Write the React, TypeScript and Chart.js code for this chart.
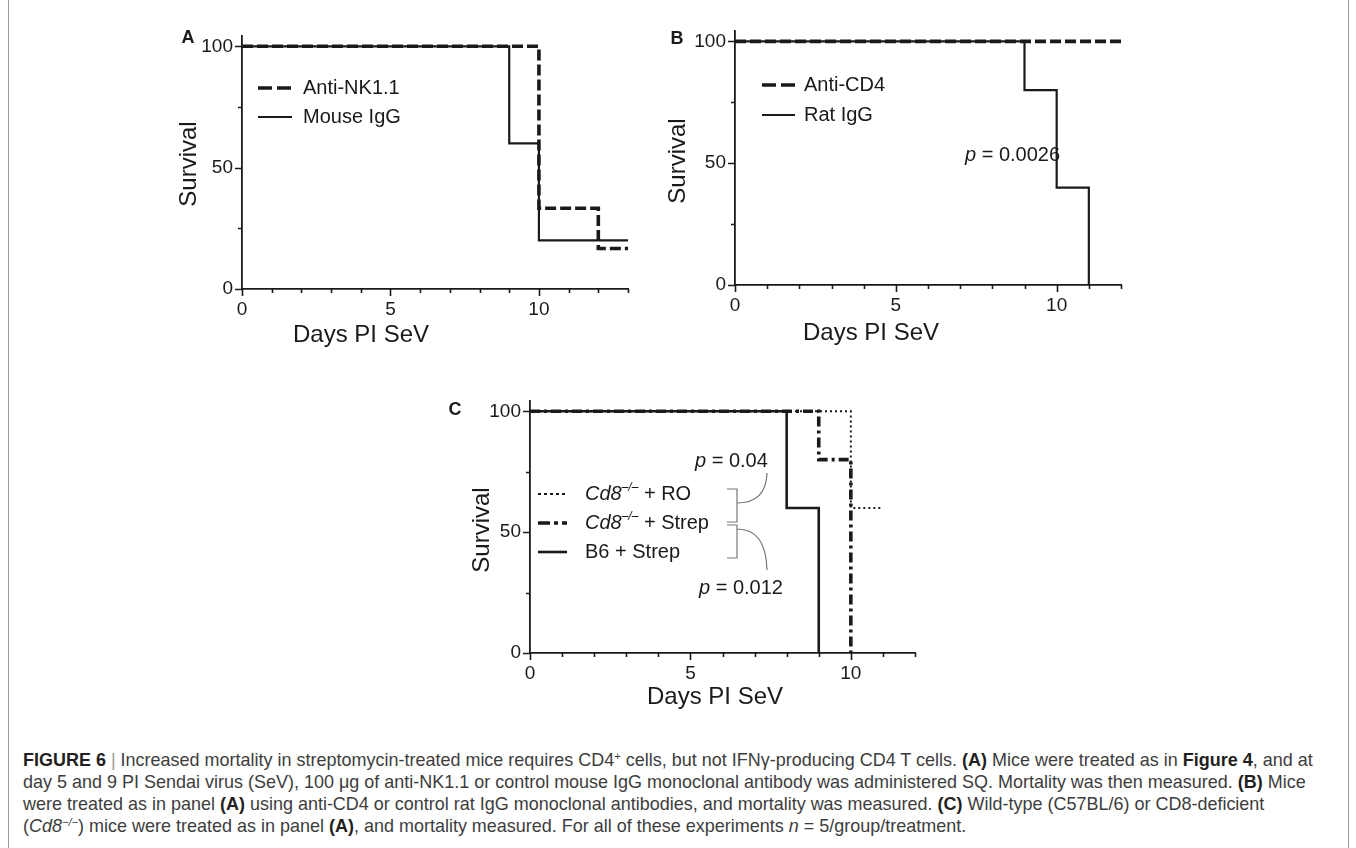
import React, { useEffect, useLayoutEffect, useRef } from 'react';
import { Chart, registerables } from 'chart.js';
Chart.register(...registerables);

// ---------- data ----------
const nk11Days = [0, 10, 12, 13];
const nk11Surv = [100, 33.3, 16.7, 16.7];
const mouseIgGDays = [0, 9, 10, 13];
const mouseIgGSurv = [100, 60, 20, 20];

const cd4Days = [0, 12];
const cd4Surv = [100, 100];
const ratIgGDays = [0, 9, 10, 11];
const ratIgGSurv = [100, 80, 40, 0];

const roDays = [0, 10, 11];
const roSurv = [100, 60, 60];
const cd8StrepDays = [0, 9, 10];
const cd8StrepSurv = [100, 80, 0];
const b6StrepDays = [0, 8, 9];
const b6StrepSurv = [100, 60, 0];

const yTickValues = [0, 25, 50, 75, 100];
const yLabelValues = [0, 50, 100];
const xLabelEvery = 5;
const xMaxA = 13;
const xMaxB = 12;
const xMaxC = 12;
const yAxisMax = 104.5;

// ---------- styling ----------
const FONT = "'Liberation Sans', Arial, Helvetica, sans-serif";
const INK = '#1a1a1a';
const Y_W = 50;
const X_H = 40;

type Series = { label: string; days: number[]; surv: number[]; dash: number[]; width: number; legendDash: number[] };

type PanelCfg = {
  box: { left: number; top: number; width: number; height: number };
  area: { left: number; right: number; y0: number; y100: number };
  xMax: number;
  series: Series[];
  decorate: (ctx: CanvasRenderingContext2D) => void;
};

function pts(days: number[], surv: number[]) {
  return days.map((d, i) => ({ x: d, y: surv[i] }));
}

function text(ctx: CanvasRenderingContext2D, s: string, x: number, y: number, size: number, opts: any = {}) {
  ctx.save();
  ctx.font = `${opts.bold ? 'bold ' : ''}${opts.italic ? 'italic ' : ''}${size}px ${FONT}`;
  ctx.fillStyle = opts.color || INK;
  ctx.textAlign = opts.align || 'left';
  ctx.textBaseline = 'middle';
  if (opts.rotate) {
    ctx.translate(x, y);
    ctx.rotate(opts.rotate);
    ctx.fillText(s, 0, 0);
  } else {
    ctx.fillText(s, x, y);
  }
  const w = ctx.measureText(s).width;
  ctx.restore();
  return w;
}

function rich(ctx: CanvasRenderingContext2D, parts: any[], x: number, y: number, size: number) {
  let cx = x;
  for (const p of parts) {
    const sz = p.sup ? Math.round(size * 0.6) : size;
    const yy = p.sup ? y - size * 0.33 : y;
    cx += text(ctx, p.t, cx, yy, sz, { italic: p.italic });
  }
  return cx - x;
}

function legendLine(ctx: CanvasRenderingContext2D, s: Series, x1: number, x2: number, y: number) {
  ctx.save();
  ctx.strokeStyle = INK;
  ctx.lineWidth = s.width;
  ctx.lineCap = 'butt';
  ctx.setLineDash(s.legendDash);
  ctx.beginPath();
  ctx.moveTo(x1, y);
  ctx.lineTo(x2, y);
  ctx.stroke();
  ctx.restore();
}

const seriesA: Series[] = [
  { label: 'Mouse IgG', days: mouseIgGDays, surv: mouseIgGSurv, dash: [], width: 2.2, legendDash: [] },
  { label: 'Anti-NK1.1', days: nk11Days, surv: nk11Surv, dash: [11, 4], width: 3.6, legendDash: [14, 5] },
];
const seriesB: Series[] = [
  { label: 'Rat IgG', days: ratIgGDays, surv: ratIgGSurv, dash: [], width: 2.2, legendDash: [] },
  { label: 'Anti-CD4', days: cd4Days, surv: cd4Surv, dash: [11, 4], width: 3.6, legendDash: [14, 5] },
];
const seriesC: Series[] = [
  { label: 'B6 + Strep', days: b6StrepDays, surv: b6StrepSurv, dash: [], width: 2.6, legendDash: [] },
  { label: 'Cd8 + Strep', days: cd8StrepDays, surv: cd8StrepSurv, dash: [10, 4, 3, 4], width: 3.6, legendDash: [12, 4, 4, 4] },
  { label: 'Cd8 + RO', days: roDays, surv: roSurv, dash: [2, 3], width: 2, legendDash: [3, 3] },
];

const panels: PanelCfg[] = [
  {
    box: { left: 150, top: 15, width: 500, height: 345 },
    area: { left: 242, right: 628, y0: 289, y100: 44 },
    xMax: xMaxA,
    series: seriesA,
    decorate: (ctx) => {
      text(ctx, 'A', 188, 38.5, 18, { bold: true, align: 'center' });
      text(ctx, 'Survival', 189, 164, 24, { align: 'center', rotate: -Math.PI / 2 });
      text(ctx, 'Days PI SeV', 361, 335, 24, { align: 'center' });
      legendLine(ctx, seriesA[1], 258, 292, 88);
      text(ctx, seriesA[1].label, 303, 88, 20);
      legendLine(ctx, seriesA[0], 258, 292, 117);
      text(ctx, seriesA[0].label, 303, 117, 20);
    },
  },
  {
    box: { left: 640, top: 10, width: 500, height: 345 },
    area: { left: 735, right: 1121, y0: 285, y100: 39 },
    xMax: xMaxB,
    series: seriesB,
    decorate: (ctx) => {
      text(ctx, 'B', 677, 39, 18, { bold: true, align: 'center' });
      text(ctx, 'Survival', 678, 161, 24, { align: 'center', rotate: -Math.PI / 2 });
      text(ctx, 'Days PI SeV', 871, 333, 24, { align: 'center' });
      legendLine(ctx, seriesB[1], 762, 795, 85);
      text(ctx, seriesB[1].label, 804, 85, 20);
      legendLine(ctx, seriesB[0], 762, 795, 115);
      text(ctx, seriesB[0].label, 804, 115, 20);
      rich(ctx, [{ t: 'p', italic: true }, { t: ' = 0.0026' }], 965, 155, 20);
    },
  },
  {
    box: { left: 430, top: 380, width: 510, height: 340 },
    area: { left: 530, right: 915, y0: 653, y100: 409 },
    xMax: xMaxC,
    series: seriesC,
    decorate: (ctx) => {
      text(ctx, 'C', 455, 410, 18, { bold: true, align: 'center' });
      text(ctx, 'Survival', 482, 530, 24, { align: 'center', rotate: -Math.PI / 2 });
      text(ctx, 'Days PI SeV', 715, 697, 24, { align: 'center' });
      legendLine(ctx, seriesC[2], 538, 567, 494);
      rich(ctx, [{ t: 'Cd8', italic: true }, { t: '–/–', italic: true, sup: true }, { t: ' + RO' }], 585, 494, 20);
      legendLine(ctx, seriesC[1], 538, 567, 523);
      rich(ctx, [{ t: 'Cd8', italic: true }, { t: '–/–', italic: true, sup: true }, { t: ' + Strep' }], 585, 523, 20);
      legendLine(ctx, seriesC[0], 538, 567, 552);
      text(ctx, seriesC[0].label, 585, 552, 20);
      ctx.save();
      ctx.strokeStyle = '#777';
      ctx.lineWidth = 1.2;
      ctx.setLineDash([]);
      ctx.beginPath();
      ctx.moveTo(727, 489); ctx.lineTo(737, 489); ctx.lineTo(737, 522); ctx.lineTo(727, 522);
      ctx.moveTo(727, 525); ctx.lineTo(737, 525); ctx.lineTo(737, 558); ctx.lineTo(727, 558);
      ctx.moveTo(737, 503); ctx.quadraticCurveTo(766, 503, 767, 473);
      ctx.moveTo(737, 529); ctx.quadraticCurveTo(766, 529, 767, 570);
      ctx.stroke();
      ctx.restore();
      rich(ctx, [{ t: 'p', italic: true }, { t: ' = 0.04' }], 695, 461, 20);
      rich(ctx, [{ t: 'p', italic: true }, { t: ' = 0.012' }], 699, 588, 20);
    },
  },
];

function PanelChart({ cfg }: { cfg: PanelCfg }) {
  const ref = useRef<HTMLCanvasElement | null>(null);
  useEffect(() => {
    if (!ref.current) return;
    const { box, area, xMax } = cfg;
    const top = area.y0 - (area.y0 - area.y100) * (yAxisMax / 100);
    const padding = {
      left: area.left - box.left - Y_W,
      top: top - box.top,
      right: box.left + box.width - area.right,
      bottom: box.top + box.height - area.y0 - X_H,
    };
    const xTickValues: number[] = [];
    for (let v = 0; v <= xMax; v++) xTickValues.push(v);

    const decoPlugin = {
      id: 'deco',
      afterDraw(chart: any) {
        const { ctx, chartArea, scales } = chart;
        ctx.save();
        ctx.strokeStyle = INK;
        ctx.lineWidth = 1.6;
        ctx.setLineDash([]);
        ctx.beginPath();
        for (const v of yTickValues) {
          const py = Math.round(scales.y.getPixelForValue(v)) + 0.5;
          const len = yLabelValues.includes(v) ? 7 : 4;
          ctx.moveTo(chartArea.left, py);
          ctx.lineTo(chartArea.left - len, py);
        }
        for (const v of xTickValues) {
          const px = Math.round(scales.x.getPixelForValue(v)) + 0.5;
          const len = v % xLabelEvery === 0 ? 7 : 4;
          ctx.moveTo(px, chartArea.bottom);
          ctx.lineTo(px, chartArea.bottom + len);
        }
        ctx.stroke();
        ctx.translate(-box.left, -box.top);
        cfg.decorate(ctx);
        ctx.restore();
      },
    };

    const chart = new Chart(ref.current, {
      type: 'line',
      data: {
        datasets: cfg.series.map((s) => ({
          label: s.label,
          data: pts(s.days, s.surv),
          borderColor: INK,
          borderWidth: s.width,
          borderDash: s.dash,
          borderCapStyle: 'butt',
          borderJoinStyle: 'miter',
          stepped: true,
          pointRadius: 0,
          fill: false,
          tension: 0,
        })),
      },
      options: {
        animation: false,
        responsive: false,
        devicePixelRatio: 1,
        layout: { padding },
        plugins: { legend: { display: false }, tooltip: { enabled: false }, title: { display: false } },
        scales: {
          x: {
            type: 'linear',
            min: 0,
            max: xMax,
            grid: { display: false, drawTicks: false },
            border: { display: true, color: INK, width: 1.8 },
            afterBuildTicks: (s: any) => { s.ticks = xTickValues.map((v) => ({ value: v })); },
            afterFit: (s: any) => { s.height = X_H; },
            ticks: {
              autoSkip: false,
              maxRotation: 0,
              padding: 9,
              color: INK,
              font: { family: FONT, size: 19 },
              callback: (v: any) => (Number(v) % xLabelEvery === 0 ? String(v) : ''),
            },
          },
          y: {
            type: 'linear',
            min: 0,
            max: yAxisMax,
            grid: { display: false, drawTicks: false },
            border: { display: true, color: INK, width: 1.8 },
            afterBuildTicks: (s: any) => { s.ticks = yTickValues.map((v) => ({ value: v })); },
            afterFit: (s: any) => { s.width = Y_W; },
            ticks: {
              autoSkip: false,
              padding: 9,
              color: INK,
              font: { family: FONT, size: 19 },
              callback: (v: any) => (yLabelValues.includes(Number(v)) ? String(v) : ''),
            },
          },
        },
      } as any,
      plugins: [decoPlugin],
    });
    return () => chart.destroy();
  }, [cfg]);
  const { box } = cfg;
  return (
    <canvas
      ref={ref}
      width={box.width}
      height={box.height}
      style={{ position: 'absolute', left: box.left, top: box.top, width: box.width, height: box.height }}
    />
  );
}

const B = ({ children }: { children: any }) => <b style={{ color: '#231f20', fontWeight: 700 }}>{children}</b>;
const supStyle: React.CSSProperties = { fontSize: '0.62em', verticalAlign: '0.55em', lineHeight: 0 };

function Caption() {
  const ref = useRef<HTMLDivElement | null>(null);
  const line1 = useRef<HTMLDivElement | null>(null);
  useLayoutEffect(() => {
    if (!ref.current || !line1.current) return;
    const w = line1.current.scrollWidth;
    const k = 1290 / w;
    ref.current.style.transform = `scaleX(${k})`;
  }, []);
  const lineStyle: React.CSSProperties = { whiteSpace: 'nowrap', height: 22, lineHeight: '22px', width: 'max-content' };
  return (
    <div
      ref={ref}
      style={{
        position: 'absolute',
        left: 23,
        top: 749,
        transformOrigin: '0 0',
        fontFamily: "'Liberation Sans', Arial, sans-serif",
        fontSize: 19,
        color: '#3d3d3d',
      }}
    >
      <div ref={line1} style={lineStyle}>
        <B>FIGURE 6</B> <span style={{ color: '#999' }}>|</span> Increased mortality in streptomycin-treated mice requires CD4
        <span style={supStyle}>+</span> cells, but not IFNγ-producing CD4 T cells. <B>(A)</B> Mice were treated as in <B>Figure 4</B>, and at
      </div>
      <div style={lineStyle}>
        day 5 and 9 PI Sendai virus (SeV), 100 μg of anti-NK1.1 or control mouse IgG monoclonal antibody was administered SQ. Mortality was then measured. <B>(B)</B> Mice
      </div>
      <div style={lineStyle}>
        were treated as in panel <B>(A)</B> using anti-CD4 or control rat IgG monoclonal antibodies, and mortality was measured. <B>(C)</B> Wild-type (C57BL/6) or CD8-deficient
      </div>
      <div style={lineStyle}>
        (<i>Cd8</i>
        <i style={supStyle}>−/−</i>) mice were treated as in panel <B>(A)</B>, and mortality measured. For all of these experiments <i>n</i> = 5/group/treatment.
      </div>
    </div>
  );
}

export default function App() {
  return (
    <div style={{ position: 'absolute', left: 0, top: 0, width: 1356, height: 848, overflow: 'hidden', background: '#fff' }}>
      <div style={{ position: 'absolute', left: 8, top: 0, width: 1339, height: 860, borderLeft: '1px solid #9a9a9a', borderRight: '1px solid #9a9a9a' }} />
      {panels.map((p, i) => (
        <PanelChart key={i} cfg={p} />
      ))}
      <Caption />
    </div>
  );
}
